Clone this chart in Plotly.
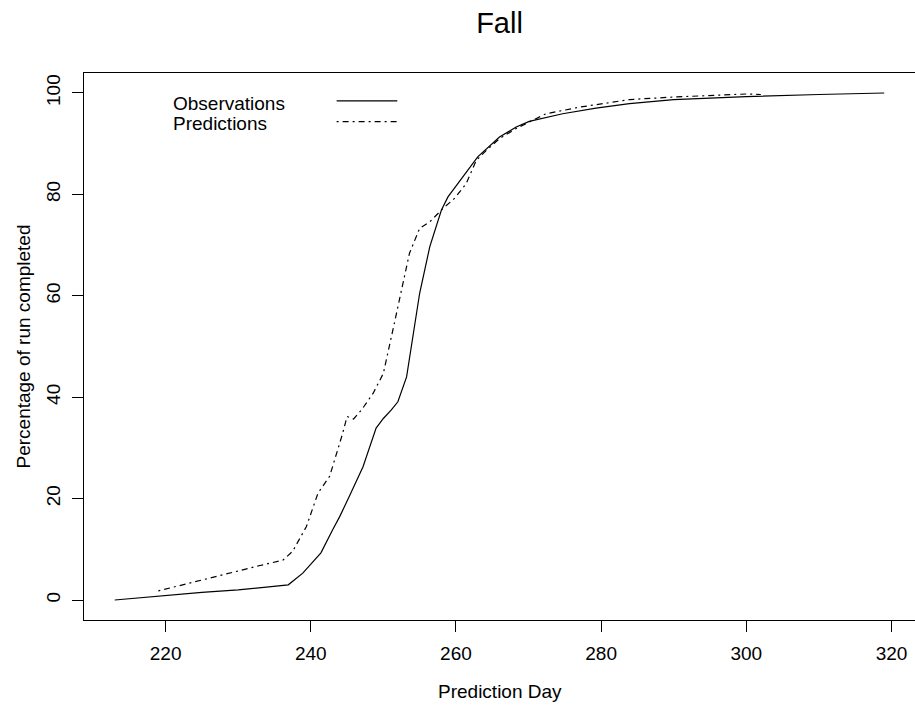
import plotly.graph_objects as go

# ---- data ----
obs_day = [213, 216, 220, 225, 230, 234, 236.9, 238.9, 240.5, 241.4, 243.0, 244.0, 245.3,
           247.2, 249.0, 250.0, 251.1, 252.0, 253.2, 255.0, 256.4, 257.3, 258.0, 258.9,
           261.0, 263.0, 266.0, 268.3, 270.1, 274.7, 279.3, 283.9, 290, 300, 310, 319]
obs_pct = [0, 0.4, 0.9, 1.5, 2.0, 2.5, 3.0, 5.3, 7.9, 9.3, 13.8, 16.5, 20.4,
           26.3, 33.9, 35.8, 37.5, 39.1, 44.0, 60.5, 69.7, 73.6, 76.9, 79.5,
           83.5, 87.4, 91.3, 93.3, 94.4, 95.9, 97.0, 97.9, 98.7, 99.3, 99.7, 100]

pred_day = [219, 222, 226, 230, 233, 234.5, 236.2, 237.5, 239.4, 241.0, 242.6, 244.4, 245.0,
            245.9, 247.0, 248.6, 250.0, 251.5, 253.6, 255.0, 256.4, 258.2, 259.8, 261.4,
            262.8, 264.2, 266.0, 268.3, 272.4, 277.0, 283.9, 290, 296, 300, 302]
pred_pct = [1.8, 2.9, 4.3, 5.7, 6.8, 7.3, 7.9, 9.6, 14.5, 21.1, 24.4, 32.9, 36.2,
            35.7, 37.5, 40.8, 44.7, 54.5, 68.4, 73.3, 74.6, 77.2, 79.2, 82.1,
            86.7, 88.7, 91.0, 93.0, 95.9, 97.2, 98.7, 99.2, 99.5, 99.8, 99.7]

x_ticks = [220, 240, 260, 280, 300, 320]
y_ticks = [0, 20, 40, 60, 80, 100]
legend_labels = ["Observations", "Predictions"]

FONT = "Liberation Sans, Arial, Helvetica, sans-serif"
DASHDOT = "2px,4px,6px,4px"

fig = go.Figure()
fig.add_trace(go.Scatter(x=obs_day, y=obs_pct, mode="lines", name=legend_labels[0],
                         line=dict(color="black", width=1.2), showlegend=False))
fig.add_trace(go.Scatter(x=pred_day, y=pred_pct, mode="lines", name=legend_labels[1],
                         line=dict(color="black", width=1.2, dash=DASHDOT), showlegend=False))

# legend (text left, line sample right, as in the original)
leg_y = [0.945, 0.907]
for i, (lab, dash) in enumerate(zip(legend_labels, ["solid", DASHDOT])):
    fig.add_annotation(x=0.105, y=leg_y[i], xref="paper", yref="paper", text=lab,
                       showarrow=False, xanchor="left", yanchor="middle",
                       font=dict(family=FONT, size=19, color="black"))
    fig.add_shape(type="line", xref="paper", yref="paper",
                  x0=0.304, x1=0.377, y0=leg_y[i] + 0.004, y1=leg_y[i] + 0.004,
                  line=dict(color="black", width=1.2, dash=dash))

fig.update_layout(
    width=915, height=707,
    margin=dict(l=84, r=0, t=73, b=87),
    plot_bgcolor="white", paper_bgcolor="white",
    font=dict(family=FONT, size=19, color="black"),
    title=dict(text="Fall", x=0.5, xref="paper", y=1 - 23 / 707, yref="container",
               xanchor="center", yanchor="middle",
               font=dict(family=FONT, size=29, color="black")),
    xaxis=dict(range=[208.76, 323.24], tickvals=x_ticks, ticks="outside", ticklen=11,
               tickcolor="black", showline=True, linecolor="black", linewidth=1,
               mirror=True, showgrid=False, zeroline=False,
               tickfont=dict(family=FONT, size=19), ticklabelstandoff=5),
    yaxis=dict(range=[-3.94, 103.94], tickvals=y_ticks, ticks="outside", ticklen=11,
               tickcolor="black", showline=True, linecolor="black", linewidth=1,
               mirror=False, showgrid=False, zeroline=False, tickangle=-90,
               tickfont=dict(family=FONT, size=19), ticklabelstandoff=4),
    showlegend=False,
)

fig.add_annotation(x=0.5, y=-0.131, xref="paper", yref="paper", text="Prediction Day",
                   showarrow=False, xanchor="center", yanchor="middle",
                   font=dict(family=FONT, size=19, color="black"))
fig.add_annotation(x=-61 / 831, y=0.5, xref="paper", yref="paper",
                   text="Percentage of run completed",
                   showarrow=False, textangle=-90, xanchor="center", yanchor="middle",
                   font=dict(family=FONT, size=19, color="black"))

fig.write_html("out.html",
               config={"displayModeBar": False},
               post_script="document.body.style.margin='0';document.body.style.overflow='hidden';")
